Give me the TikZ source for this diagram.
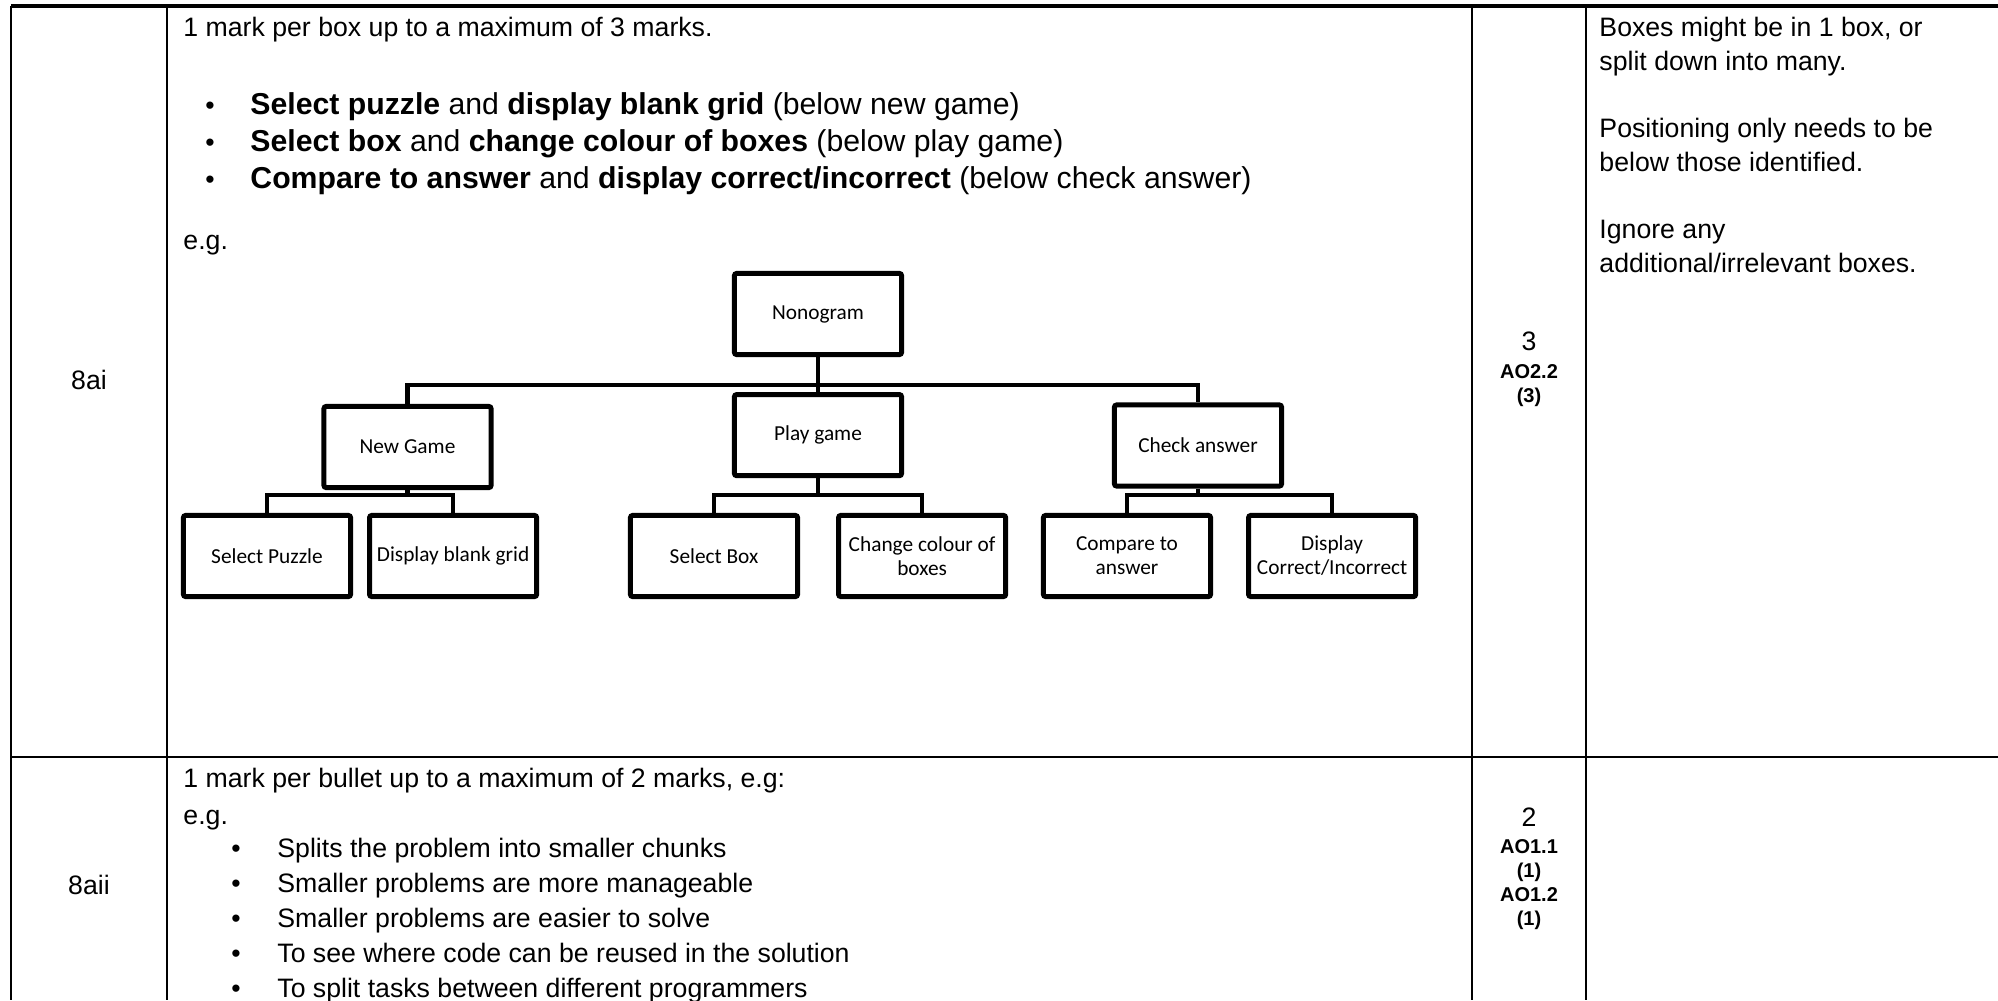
\documentclass[tikz,border=0pt]{standalone}
\usepackage{fontspec}
\setmainfont{Liberation Sans}
\newfontfamily\calibri{Carlito}
\usetikzlibrary{positioning}

\begin{document}
\begin{tikzpicture}[x=0.45pt, y=-0.45pt,
  tabline/.style={line width=1.1pt},
  box/.style={draw, line width=2.25pt, rounded corners=1pt, minimum width=75.2pt, minimum height=36.5pt, inner sep=1pt, align=center, font=\calibri\fontsize{9.6}{10.8}\selectfont},
  link/.style={line width=2pt},
  txt/.style={anchor=base west, inner sep=0pt, font=\fontsize{12}{14}\selectfont},
  big/.style={txt, font=\fontsize{13.6}{16}\selectfont},
  bul/.style={anchor=base, inner sep=0pt, font=\fontsize{12}{14}\selectfont},
  mk/.style={anchor=base, inner sep=0pt, font=\fontsize{12}{14}\selectfont},
  ao/.style={anchor=base, inner sep=0pt, font=\bfseries\fontsize{9}{10}\selectfont}
]
  \useasboundingbox (0,0) rectangle (1998,1000);

  % table rules
  \draw[tabline, line width=1.8pt] (11,6) -- (1998,6);
  \draw[tabline] (11,757) -- (1998,757);
  \foreach \x in {11,167,1472,1586}
    \draw[tabline] (\x,6) -- (\x,1000);

  % question numbers
  \node[txt, anchor=base] (q1) at (89,389) {8ai};
  \node[txt, anchor=base] (q2) at (89,894) {8aii};

  % 8ai answer
  \node[txt] (a1) at (183,36) {1 mark per box up to a maximum of 3 marks.};
  \node[bul] (b1) at (210,114) {\textbullet};
  \node[big] (t1) at (250,114) {\textbf{Select puzzle} and \textbf{display blank grid} (below new game)};
  \node[bul] (b2) at (210,151) {\textbullet};
  \node[big] (t2) at (250,151) {\textbf{Select box} and \textbf{change colour of boxes} (below play game)};
  \node[bul] (b3) at (210,188) {\textbullet};
  \node[big] (t3) at (250,188) {\textbf{Compare to answer} and \textbf{display correct/incorrect} (below check answer)};
  \node[txt] (eg1) at (183,249) {e.g.};

  % structure diagram
  \node[box] (nono) at (818,314) {Nonogram};
  \node[box, below=15.75pt of nono] (play) {Play game};
  \node[box] (newg) at (407.5,447) {New Game};
  \node[box] (check) at (1198,445.5) {Check answer};
  \node[box] (sp) at (267,556) {Select Puzzle};
  \node[box, right=6.3pt of sp] (dbg) {Display blank grid};
  \node[box] (sb) at (714,556) {Select Box};
  \node[box, right=16.2pt of sb] (cc) {Change colour of\\boxes};
  \node[box] (ca) at (1127,556) {Compare to\\answer};
  \node[box, right=14.85pt of ca] (dc) {Display\\Correct/Incorrect};

  \coordinate (bus) at (818,385);
  \coordinate (newbus) at (407.5,495);
  \coordinate (playbus) at (818,495);
  \coordinate (checkbus) at (1198,495);

  \draw[link] (nono.south) -- (play.north);
  \draw[link] (newg.north) |- (bus) -| (check.north);
  \draw[link] (newg.south) -- (newbus);
  \draw[link] (sp.north) |- (newbus) -| (dbg.north);
  \draw[link] (play.south) -- (playbus);
  \draw[link] (sb.north) |- (playbus) -| (cc.north);
  \draw[link] (check.south) -- (checkbus);
  \draw[link] (ca.north) |- (checkbus) -| (dc.north);

  % marks 8ai
  \node[mk] (m1) at (1529,350) {3};
  \node[ao] (m1a) at (1529,378) {AO2.2};
  \node[ao] (m1b) at (1529,402) {(3)};

  % guidance 8ai
  \node[txt] (g1) at (1599,36) {Boxes might be in 1 box, or};
  \node[txt] (g2) at (1599,70) {split down into many.};
  \node[txt] (g3) at (1599,137) {Positioning only needs to be};
  \node[txt] (g4) at (1599,171) {below those identified.};
  \node[txt] (g5) at (1599,238) {Ignore any};
  \node[txt] (g6) at (1599,272) {additional/irrelevant boxes.};

  % 8aii answer
  \node[txt] (a2) at (183,787) {1 mark per bullet up to a maximum of 2 marks, e.g:};
  \node[txt] (eg2) at (183,824) {e.g.};
  \foreach \y/\t [count=\i] in {857/Splits the problem into smaller chunks,
      892/Smaller problems are more manageable,
      927/Smaller problems are easier to solve,
      962/To see where code can be reused in the solution,
      997/To split tasks between different programmers}{
    \node[bul] (c\i) at (236,\y) {\textbullet};
    \node[txt] (d\i) at (277,\y) {\t};
  }

  % marks 8aii
  \node[mk] (m2) at (1529,826) {2};
  \node[ao] (m2a) at (1529,853) {AO1.1};
  \node[ao] (m2b) at (1529,877) {(1)};
  \node[ao] (m2c) at (1529,901) {AO1.2};
  \node[ao] (m2d) at (1529,925) {(1)};
\end{tikzpicture}
\end{document}
